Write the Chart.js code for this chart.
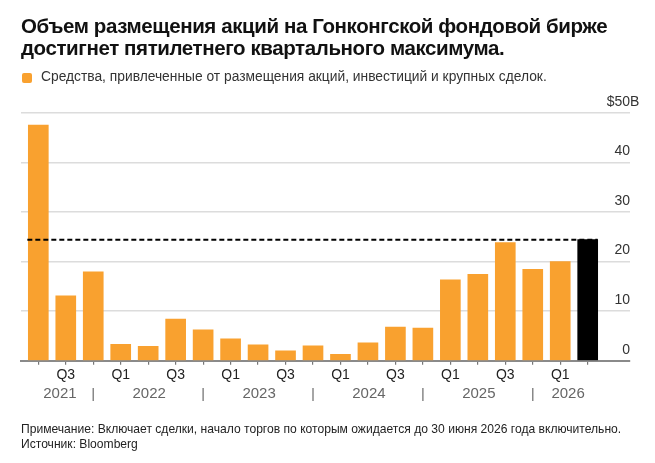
<!DOCTYPE html>
<html>
<head>
<meta charset="utf-8">
<script src="https://cdn.jsdelivr.net/npm/chart.js@4.4.1/dist/chart.umd.min.js"></script>
<style>
  body { margin: 0; background: #fff; font-family: "Liberation Sans", Arial, sans-serif; }
  #wrap { position: relative; width: 655px; height: 463px; }
  #chart { position: absolute; left: 0; top: 0; }
  .title { position: absolute; left: 21px; top: 15px; font-size: 20.5px; letter-spacing: -0.4px; font-weight: bold; line-height: 22px; color: #111; }
  .legend { position: absolute; left: 22px; top: 69px; font-size: 13.8px; line-height: 16px; color: #333; }
  .legend i { position: absolute; left: 0; top: 4px; width: 10px; height: 10px; border-radius: 2px; background: #f9a12f; }
  .legend span { margin-left: 19px; }
  .note { position: absolute; left: 21px; top: 422px; font-size: 12.1px; line-height: 15px; color: #222; }
</style>
</head>
<body>
<div id="wrap">
  <canvas id="chart" width="655" height="463"></canvas>
  <div class="title">Объем размещения акций на Гонконгской фондовой бирже<br>достигнет пятилетнего квартального максимума.</div>
  <div class="legend"><i></i><span>Средства, привлеченные от размещения акций, инвестиций и крупных сделок.</span></div>
  <div class="note">Примечание: Включает сделки, начало торгов по которым ожидается до 30 июня 2026 года включительно.<br>Источник: Bloomberg</div>
</div>
<script>
// quarters from 2021 Q2 to 2026 Q2 (last one is the projection)
const categories = [
  "2021 Q2", "2021 Q3", "2021 Q4",
  "2022 Q1", "2022 Q2", "2022 Q3", "2022 Q4",
  "2023 Q1", "2023 Q2", "2023 Q3", "2023 Q4",
  "2024 Q1", "2024 Q2", "2024 Q3", "2024 Q4",
  "2025 Q1", "2025 Q2", "2025 Q3", "2025 Q4",
  "2026 Q1", "2026 Q2"
];
// $ billions
const raised = [47.5, 13.1, 17.9, 3.3, 2.9, 8.4, 6.2, 4.4, 3.2, 2.0, 3.0,
  1.3, 3.6, 6.8, 6.6, 16.3, 17.4, 23.8, 18.4, 20.0, 24.4];
const yTicks = [0, 10, 20, 30, 40, 50];
const shownQuarters = ["Q1", "Q3"];
const peakLevel = 24.4;

const ORANGE = "#f9a12f";
const barColours = raised.map((v, i) => (i === raised.length - 1 ? "#000" : ORANGE));

const quarterOf = (i) => (categories[i] ? categories[i].split(" ")[1] : "");
const yearOf = (i) => categories[i].split(" ")[0];

// year row under the quarter labels, with separators at the Q4 bars
const yearRow = {
  id: "yearRow",
  afterDraw(chart) {
    const ctx = chart.ctx;
    const x = chart.scales.x;
    const years = [...new Set(categories.map((c, i) => yearOf(i)))];
    const q4s = [];
    categories.forEach((c, i) => { if (quarterOf(i) === "Q4") q4s.push(i); });
    ctx.save();
    ctx.strokeStyle = "#888";
    ctx.lineWidth = 1.5;
    q4s.forEach((i) => {
      const px = x.getPixelForValue(i);
      ctx.beginPath();
      ctx.moveTo(px, 388);
      ctx.lineTo(px, 401);
      ctx.stroke();
    });
    ctx.fillStyle = "#666";
    ctx.font = "15px 'Liberation Sans', Arial, sans-serif";
    ctx.textAlign = "center";
    ctx.textBaseline = "middle";
    const bounds = [-0.5, ...q4s, categories.length - 0.5];
    years.forEach((y, k) => {
      const mid = (bounds[k] + bounds[k + 1]) / 2;
      ctx.fillText(y, x.getPixelForValue(mid) + 1, 394);
    });
    ctx.restore();
  }
};

// value labels sit above their gridlines, numbers flush with the line end
const yLabels = {
  id: "yLabels",
  afterDraw(chart) {
    const ctx = chart.ctx;
    const y = chart.scales.y;
    const right = chart.chartArea.right;
    ctx.save();
    ctx.fillStyle = "#333";
    ctx.font = "14px 'Liberation Sans', Arial, sans-serif";
    ctx.textBaseline = "middle";
    yTicks.forEach((v) => {
      const py = y.getPixelForValue(v) - 11;
      const txt = String(v);
      ctx.textAlign = "right";
      ctx.fillText(txt, right, py);
      if (v === yTicks[yTicks.length - 1]) {
        ctx.fillText("$", right - ctx.measureText(txt).width, py);
        ctx.textAlign = "left";
        ctx.fillText("B", right, py);
      }
    });
    ctx.restore();
  }
};

new Chart(document.getElementById("chart").getContext("2d"), {
  data: {
    datasets: [
      {
        type: "line",
        data: [
          { x: -0.4, y: peakLevel },
          { x: categories.length - 1 + 0.36, y: peakLevel }
        ],
        borderColor: "#000",
        borderWidth: 2,
        borderDash: [5, 3],
        pointRadius: 0,
        order: 0
      },
      {
        type: "bar",
        data: raised.map((v, i) => ({ x: i, y: v })),
        backgroundColor: barColours,
        barThickness: 20,
        order: 1
      }
    ]
  },
  options: {
    responsive: false,
    animation: false,
    events: [],
    layout: { padding: { left: 21, right: 25, top: 112.7, bottom: 62.3 } },
    plugins: { legend: { display: false }, tooltip: { enabled: false } },
    scales: {
      x: {
        type: "linear",
        min: -0.63,
        max: 21.54,
        offset: false,
        afterFit: (s) => { s.height = 40; },
        afterBuildTicks: (s) => { s.ticks = categories.map((c, i) => ({ value: i })); },
        grid: {
          offset: false,
          drawOnChartArea: false,
          drawTicks: true,
          tickLength: (c) => (c.tick && shownQuarters.includes(quarterOf(c.tick.value)) ? 6 : 4),
          color: "#777",
          lineWidth: 1.2
        },
        border: { display: true, color: "#8a8a8a", width: 2 },
        ticks: {
          autoSkip: false,
          maxRotation: 0,
          padding: 2,
          color: "#222",
          font: { family: "'Liberation Sans', Arial, sans-serif", size: 14 },
          callback: (v) => (shownQuarters.includes(quarterOf(v)) ? quarterOf(v) : "")
        }
      },
      y: {
        min: 0,
        max: 50,
        afterFit: (s) => { s.width = 0; },
        afterBuildTicks: (s) => { s.ticks = yTicks.map((v) => ({ value: v })); },
        grid: {
          drawTicks: false,
          color: (c) => (c.tick && c.tick.value === 0 ? "rgba(0,0,0,0)" : "#dcdcdc"),
          lineWidth: 1.5
        },
        border: { display: false },
        ticks: { display: false }
      }
    }
  },
  plugins: [yearRow, yLabels]
});
</script>
</body>
</html>
